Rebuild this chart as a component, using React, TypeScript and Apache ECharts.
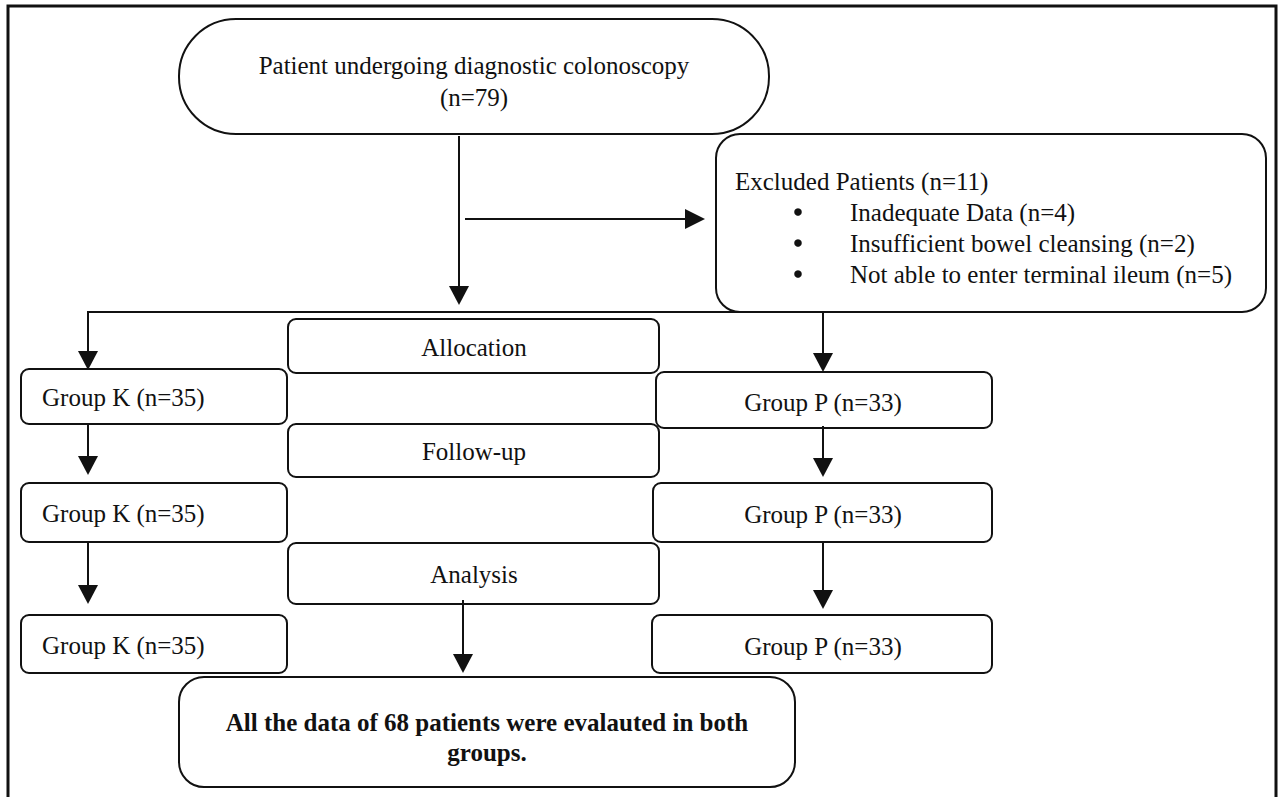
import React, { useEffect, useRef } from "react";
import * as echarts from "echarts";

// ---- data ----
const totalPatients = 79;
const excludedTotal = 11;
const exclusionReasons = ["Inadequate Data", "Insufficient bowel cleansing", "Not able to enter terminal ileum"];
const exclusionCounts = [4, 2, 5];
const stageLabels = ["Allocation", "Follow-up", "Analysis"];
const groupNames = ["Group K", "Group P"];
const groupCounts = [35, 33];
const evaluatedTotal = 68;

const FONT = '"Liberation Serif", "Times New Roman", serif';
const FS = 25;
const INK = "#111";

function txt(text: string, x: number, y: number, align: string = "center", bold = false): any {
  return {
    type: "text",
    silent: true,
    style: {
      text,
      x,
      y,
      fill: INK,
      fontSize: FS,
      fontFamily: FONT,
      fontWeight: bold ? "bold" : "normal",
      textAlign: align,
      textVerticalAlign: "middle",
      verticalAlign: "middle",
    },
  };
}

function box(x: number, y: number, w: number, h: number, r: number, lw = 2): any {
  return {
    type: "rect",
    silent: true,
    shape: { x, y, width: w, height: h, r },
    style: { fill: "none", stroke: INK, lineWidth: lw },
  };
}

function line(x1: number, y1: number, x2: number, y2: number, lw = 2): any {
  return {
    type: "line",
    silent: true,
    shape: { x1, y1, x2, y2 },
    style: { stroke: INK, lineWidth: lw },
  };
}

function arrowDown(x: number, y1: number, tipY: number): any[] {
  return [
    line(x, y1, x, tipY - 16),
    {
      type: "polygon",
      silent: true,
      shape: { points: [[x - 10, tipY - 19], [x + 10, tipY - 19], [x, tipY]] },
      style: { fill: INK },
    },
  ];
}

function arrowRight(y: number, x1: number, tipX: number): any[] {
  return [
    line(x1, y, tipX - 16, y),
    {
      type: "polygon",
      silent: true,
      shape: { points: [[tipX - 20, y - 10], [tipX - 20, y + 10], [tipX, y]] },
      style: { fill: INK },
    },
  ];
}

export default function App() {
  const ref = useRef<HTMLDivElement>(null);
  useEffect(() => {
    if (!ref.current) return;
    const chart = echarts.init(ref.current, undefined, { renderer: "svg" });

    const els: any[] = [];
    // outer frame
    els.push(box(8, 6, 1268, 830, 0, 3));

    // top terminal
    els.push(box(179, 19, 590, 115, 57));
    els.push(txt("Patient undergoing diagnostic colonoscopy", 474, 65));
    els.push(txt(`(n=${totalPatients})`, 474, 97));

    // main down arrow and branch to excluded
    els.push(...arrowDown(459, 136, 305));
    els.push(...arrowRight(219, 465, 705));

    // excluded box
    els.push(box(716, 134, 550, 178, 24));
    els.push(txt(`Excluded Patients (n=${excludedTotal})`, 735, 181, "left"));
    exclusionReasons.forEach((reason, i) => {
      const y = 212 + i * 31;
      els.push({
        type: "circle",
        silent: true,
        shape: { cx: 798, cy: y, r: 3.8 },
        style: { fill: INK },
      });
      els.push(txt(`${reason} (n=${exclusionCounts[i]})`, 850, y, "left"));
    });

    // split line
    els.push(line(87, 312, 823, 312));
    els.push(...arrowDown(88, 311, 370));
    els.push(...arrowDown(823, 311, 372));

    // stage boxes
    const stageBoxes = [
      [288, 319, 371, 54],
      [288, 424, 371, 53],
      [288, 543, 371, 61],
    ];
    stageLabels.forEach((label, i) => {
      const [x, y, w, h] = stageBoxes[i];
      els.push(box(x, y, w, h, 8));
      els.push(txt(label, 474, y + h / 2 + 1));
    });

    // group K column
    const kBoxes = [
      [21, 369, 266, 55],
      [21, 483, 266, 59],
      [21, 615, 266, 58],
    ];
    kBoxes.forEach(([x, y, w, h]) => {
      els.push(box(x, y, w, h, 8));
      els.push(txt(`${groupNames[0]} (n=${groupCounts[0]})`, 42, y + h / 2 + 1, "left"));
    });
    els.push(...arrowDown(88, 424, 475));
    els.push(...arrowDown(88, 542, 604));

    // group P column
    const pBoxes = [
      [656, 372, 336, 56],
      [653, 483, 339, 59],
      [652, 615, 340, 58],
    ];
    pBoxes.forEach(([x, y, w, h]) => {
      els.push(box(x, y, w, h, 8));
      els.push(txt(`${groupNames[1]} (n=${groupCounts[1]})`, 823, y + h / 2 + 2));
    });
    els.push(...arrowDown(823, 426, 477));
    els.push(...arrowDown(823, 542, 609));

    // analysis -> result
    els.push(...arrowDown(463, 600, 673));

    // result box
    els.push(box(179, 677, 616, 110, 25));
    els.push(txt(`All the data of ${evaluatedTotal} patients were evalauted in both`, 487, 722, "center", true));
    els.push(txt("groups.", 487, 752, "center", true));

    chart.setOption({
      animation: false,
      backgroundColor: "#fff",
      graphic: { elements: els },
    });

    return () => chart.dispose();
  }, []);

  return (
    <div
      ref={ref}
      style={{ position: "absolute", left: 0, top: 0, width: 1278, height: 797, background: "#fff" }}
    />
  );
}
